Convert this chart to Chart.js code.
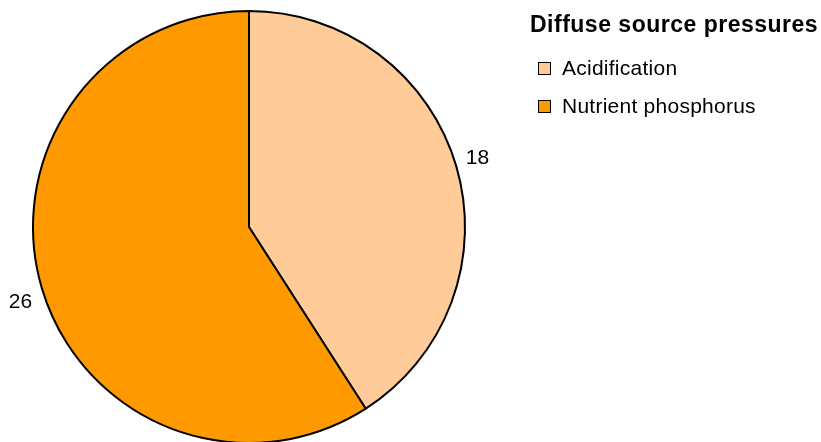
<!DOCTYPE html>
<html>
<head>
<meta charset="utf-8">
<script src="https://cdn.jsdelivr.net/npm/chart.js@4"></script>
<style>
  html, body { margin: 0; padding: 0; background: #fff; }
  #wrap { position: relative; width: 821px; height: 442px; overflow: hidden; }
  #c { position: absolute; left: 0; top: 0; }
  .lg { position: absolute; font-family: "Liberation Sans", Arial, sans-serif; color: #000; white-space: nowrap; line-height: 1; }
  #title { left: 530px; top: 13px; font-size: 23px; font-weight: bold; letter-spacing: 0.5px; }
  .item { left: 538px; font-size: 21px; letter-spacing: 0.25px; }
  .item .box { position: absolute; left: 0; top: 5px; width: 11px; height: 11px; border: 1px solid #000; }
  .item .txt { position: absolute; left: 24px; top: 0; }
</style>
</head>
<body>
<div id="wrap">
  <canvas id="c" width="821" height="460"></canvas>
  <div id="title" class="lg"></div>
</div>
<script>
const legendTitle = "Diffuse source pressures";
const categories = ["Acidification", "Nutrient phosphorus"];
const values = [18, 26];
const colors = ["#FFCC99", "#FF9900"];

const wrap = document.getElementById('wrap');
document.getElementById('title').textContent = legendTitle;
categories.forEach((name, i) => {
  const d = document.createElement('div');
  d.className = 'lg item';
  d.style.top = (57 + i * 38) + 'px';
  const b = document.createElement('span');
  b.className = 'box';
  b.style.background = colors[i];
  const t = document.createElement('span');
  t.className = 'txt';
  t.textContent = name;
  d.appendChild(b); d.appendChild(t);
  wrap.appendChild(d);
});

const labelPlugin = {
  id: 'outerLabels',
  afterDatasetsDraw(chart) {
    const ctx = chart.ctx;
    const meta = chart.getDatasetMeta(0);
    ctx.save();
    ctx.font = '21px "Liberation Sans", Arial, sans-serif';
    ctx.fillStyle = '#000';
    ctx.textBaseline = 'alphabetic';
    meta.data.forEach((arc, i) => {
      const p = arc.getProps(['x', 'y', 'startAngle', 'endAngle', 'outerRadius'], true);
      const mid = (p.startAngle + p.endAngle) / 2;
      const R = p.outerRadius + 10;
      const px = p.x + Math.cos(mid) * R;
      const py = p.y + Math.sin(mid) * R;
      ctx.textAlign = Math.cos(mid) >= 0 ? 'left' : 'right';
      const by = Math.sin(mid) < 0 ? py + 1 : py + 17;
      ctx.fillText(String(chart.data.datasets[0].data[i]), px, by);
    });
    ctx.restore();
  }
};

new Chart(document.getElementById('c'), {
  type: 'pie',
  data: {
    labels: categories,
    datasets: [{
      data: values,
      backgroundColor: colors,
      borderColor: '#000',
      borderWidth: 2
    }]
  },
  options: {
    responsive: false,
    animation: false,
    layout: { padding: { left: 32, right: 355, top: 10, bottom: 16 } },
    plugins: {
      legend: { display: false },
      tooltip: { enabled: false }
    }
  },
  plugins: [labelPlugin]
});
</script>
</body>
</html>
